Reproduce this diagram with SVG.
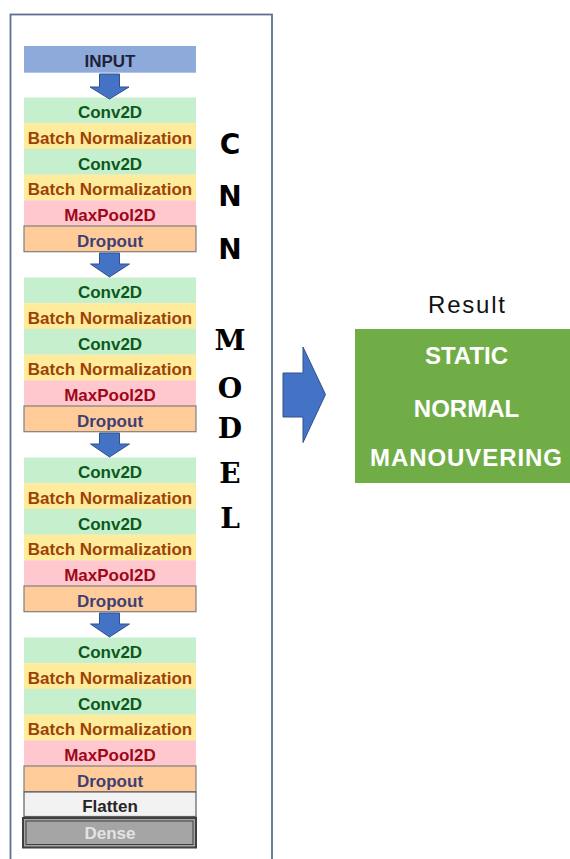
<svg xmlns="http://www.w3.org/2000/svg" width="570" height="859" viewBox="0 0 570 859">
<style>
.t{font-family:"Liberation Sans",Arial,sans-serif;font-weight:bold;font-size:17px;text-anchor:middle}
.conv rect{fill:#c6efce}.conv text{fill:#0a5a1a}
.bn rect{fill:#ffeb9c}.bn text{fill:#9c4206}
.mp rect{fill:#ffc7ce}.mp text{fill:#a0061a}
.dr rect{fill:#ffcc99;stroke:#7f7f7f;stroke-width:1.2}.dr text{fill:#3f3f76}
.arr{fill:#4472c4;stroke:#2f528f;stroke-width:1}
.big{font-family:"DejaVu Sans","Liberation Sans",sans-serif;font-weight:bold;font-size:28px;text-anchor:middle;fill:#000}
.bigs{font-family:"DejaVu Serif","Liberation Serif",serif;font-weight:bold;font-size:28px;text-anchor:middle;fill:#000}
.res{font-family:"Liberation Sans",Arial,sans-serif;font-weight:bold;font-size:24px;text-anchor:middle;fill:#fff}
</style>
<rect x="0" y="0" width="570" height="859" fill="#fff"/>
<rect id="frame" x="10.5" y="14.5" width="261.5" height="870" fill="none" stroke="#5f6f8f" stroke-width="1.8"/>

<g id="input"><rect x="24" y="46" width="172" height="26.7" fill="#8eaadb"/><text class="t" x="110" y="67" font-size="16" fill="#1f2237">INPUT</text></g>

<g id="block1">
<g id="b1-conv1" class="conv"><rect x="24" y="97.5" width="172" height="25.9"/><text class="t" x="110" y="118">Conv2D</text></g>
<g id="b1-bn1" class="bn"><rect x="24" y="123.2" width="172" height="25.9"/><text class="t" x="110" y="144">Batch Normalization</text></g>
<g id="b1-conv2" class="conv"><rect x="24" y="148.9" width="172" height="25.9"/><text class="t" x="110" y="169.5">Conv2D</text></g>
<g id="b1-bn2" class="bn"><rect x="24" y="174.6" width="172" height="25.9"/><text class="t" x="110" y="195">Batch Normalization</text></g>
<g id="b1-mp" class="mp"><rect x="24" y="200.3" width="172" height="25.7"/><text class="t" x="110" y="221">MaxPool2D</text></g>
<g id="b1-dr" class="dr"><rect x="24" y="226" width="172" height="25.7"/><text class="t" x="110" y="246.5">Dropout</text></g>
</g>
<g id="block2">
<g id="b2-conv1" class="conv"><rect x="24" y="277.5" width="172" height="25.9"/><text class="t" x="110" y="298">Conv2D</text></g>
<g id="b2-bn1" class="bn"><rect x="24" y="303.2" width="172" height="25.9"/><text class="t" x="110" y="324">Batch Normalization</text></g>
<g id="b2-conv2" class="conv"><rect x="24" y="328.9" width="172" height="25.9"/><text class="t" x="110" y="349.5">Conv2D</text></g>
<g id="b2-bn2" class="bn"><rect x="24" y="354.6" width="172" height="25.9"/><text class="t" x="110" y="375">Batch Normalization</text></g>
<g id="b2-mp" class="mp"><rect x="24" y="380.3" width="172" height="25.7"/><text class="t" x="110" y="401">MaxPool2D</text></g>
<g id="b2-dr" class="dr"><rect x="24" y="406" width="172" height="25.7"/><text class="t" x="110" y="426.5">Dropout</text></g>
</g>
<g id="block3">
<g id="b3-conv1" class="conv"><rect x="24" y="457.5" width="172" height="25.9"/><text class="t" x="110" y="478">Conv2D</text></g>
<g id="b3-bn1" class="bn"><rect x="24" y="483.2" width="172" height="25.9"/><text class="t" x="110" y="504">Batch Normalization</text></g>
<g id="b3-conv2" class="conv"><rect x="24" y="508.9" width="172" height="25.9"/><text class="t" x="110" y="529.5">Conv2D</text></g>
<g id="b3-bn2" class="bn"><rect x="24" y="534.6" width="172" height="25.9"/><text class="t" x="110" y="555">Batch Normalization</text></g>
<g id="b3-mp" class="mp"><rect x="24" y="560.3" width="172" height="25.7"/><text class="t" x="110" y="581">MaxPool2D</text></g>
<g id="b3-dr" class="dr"><rect x="24" y="586" width="172" height="25.7"/><text class="t" x="110" y="606.5">Dropout</text></g>
</g>
<g id="block4">
<g id="b4-conv1" class="conv"><rect x="24" y="637.5" width="172" height="25.9"/><text class="t" x="110" y="658">Conv2D</text></g>
<g id="b4-bn1" class="bn"><rect x="24" y="663.2" width="172" height="25.9"/><text class="t" x="110" y="684">Batch Normalization</text></g>
<g id="b4-conv2" class="conv"><rect x="24" y="688.9" width="172" height="25.9"/><text class="t" x="110" y="709.5">Conv2D</text></g>
<g id="b4-bn2" class="bn"><rect x="24" y="714.6" width="172" height="25.9"/><text class="t" x="110" y="735">Batch Normalization</text></g>
<g id="b4-mp" class="mp"><rect x="24" y="740.3" width="172" height="25.7"/><text class="t" x="110" y="761">MaxPool2D</text></g>
<g id="b4-dr" class="dr"><rect x="24" y="766" width="172" height="25.7"/><text class="t" x="110" y="786.5">Dropout</text></g>
</g>
<g id="flatten"><rect x="24" y="792" width="172" height="24.5" fill="#f2f2f2" stroke="#5f5f5f" stroke-width="1.2"/><text class="t" x="110" y="811.5" fill="#262626">Flatten</text></g>
<g id="dense"><rect x="23" y="818" width="173" height="29.5" fill="#a5a5a5" stroke="#3f3f3f" stroke-width="2"/><rect x="26" y="821" width="167" height="23.5" fill="none" stroke="#3f3f3f" stroke-width="1"/><text class="t" x="110" y="838.5" fill="#e3e3e3">Dense</text></g>

<g id="connectors">
<path class="arr" d="M99.5 74H119.5V87H129L109.5 99L90 87H99.5Z"/>
<path class="arr" d="M99.5 253H119.5V264H129.5L109.5 277L90.5 264H99.5Z"/>
<path class="arr" d="M99.5 433H119.5V444H129.5L109.5 457L90.5 444H99.5Z"/>
<path class="arr" d="M99.5 613H119.5V624H129.5L109.5 637L90.5 624H99.5Z"/>
<path class="arr" d="M283 373H303V347L325.5 394.5L303 442.5V417H283Z"/>
</g>

<g id="title">
<text class="big" x="230" y="154">C</text>
<text class="big" x="230" y="206">N</text>
<text class="big" x="230" y="259">N</text>
<text class="bigs" x="230" y="350">M</text>
<text class="bigs" x="230" y="398">O</text>
<text class="bigs" x="230" y="438">D</text>
<text class="bigs" x="230" y="483">E</text>
<text class="bigs" x="230" y="528">L</text>
</g>

<g id="result">
<text x="466.5" y="312.5" font-family="Liberation Sans,Arial,sans-serif" font-size="24" text-anchor="middle" fill="#111" textLength="77">Result</text>
<rect x="355" y="329" width="220" height="154" fill="#70ad47"/>
<text class="res" x="466.5" y="363.5">STATIC</text>
<text class="res" x="466.5" y="417">NORMAL</text>
<text class="res" x="466" y="465.5" textLength="192">MANOUVERING</text>
</g>
</svg>
